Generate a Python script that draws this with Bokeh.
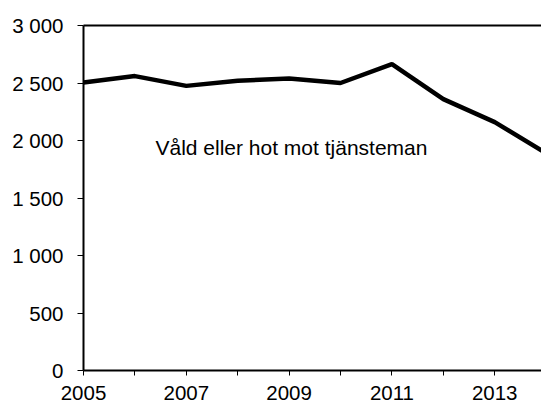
from bokeh.plotting import figure
from bokeh.models import FixedTicker, LinearAxis, Range1d, Label, ColumnDataSource
from bokeh.embed import file_html
from bokeh.resources import INLINE

# Data
years = [2005, 2006, 2007, 2008, 2009, 2010, 2011, 2012, 2013, 2014]
values = [2505, 2560, 2475, 2520, 2540, 2500, 2665, 2360, 2160, 1890]
series_label = "Våld eller hot mot tjänsteman"

y_ticks = [0, 500, 1000, 1500, 2000, 2500, 3000]
y_tick_labels = ["0", "500", "1 000", "1 500", "2 000", "2 500", "3 000"]
x_major_ticks = [2005, 2007, 2009, 2011, 2013]
x_minor_ticks = [2006, 2008, 2010, 2012, 2014]
x_tick_labels = ["2005", "2007", "2009", "2011", "2013"]

FONT = "Liberation Sans"
FS = "20.5px"

p = figure(width=541, height=403,
           x_range=Range1d(2005, 2013.91), y_range=Range1d(0, 3000),
           output_backend="svg", toolbar_location=None,
           min_border_left=83, min_border_top=25,
           min_border_right=0, min_border_bottom=33)
p.outline_line_color = None
p.xgrid.visible = False
p.ygrid.visible = False
p.background_fill_color = "white"
p.border_fill_color = "white"

src = ColumnDataSource(dict(x=years, y=values))
p.line("x", "y", source=src, line_width=4.5, line_color="black")

# x axis
xa = p.xaxis[0]
xa.ticker = FixedTicker(ticks=x_major_ticks, minor_ticks=x_minor_ticks)
xa.major_label_overrides = dict(zip(x_major_ticks, x_tick_labels))
xa.axis_line_width = 2
xa.axis_line_color = "black"
xa.major_tick_in = 0
xa.major_tick_out = 5
xa.minor_tick_in = 0
xa.minor_tick_out = 5
xa.major_tick_line_color = "black"
xa.minor_tick_line_color = "black"
xa.major_label_standoff = 10
xa.major_label_text_font = FONT
xa.major_label_text_font_size = FS
xa.major_label_text_color = "black"

# y axis
ya = p.yaxis[0]
ya.ticker = FixedTicker(ticks=y_ticks)
ya.major_label_overrides = dict(zip(y_ticks, y_tick_labels))
ya.axis_line_width = 2
ya.axis_line_color = "black"
ya.major_tick_in = 0
ya.major_tick_out = 6
ya.minor_tick_line_color = None
ya.major_tick_line_color = "black"
ya.major_label_standoff = 14
ya.major_label_text_font = FONT
ya.major_label_text_font_size = FS
ya.major_label_text_color = "black"

# top border line
top = LinearAxis(ticker=FixedTicker(ticks=[]), axis_line_width=2,
                 axis_line_color="black", major_tick_out=0, minor_tick_out=0,
                 major_label_text_font_size="0px")
p.add_layout(top, "above")

p.add_layout(Label(x=2006.40, y=1940, text=series_label, text_font=FONT,
                   text_font_size="21px", text_baseline="middle",
                   text_color="black"))

open("out.html", "w").write(file_html(p, INLINE))
